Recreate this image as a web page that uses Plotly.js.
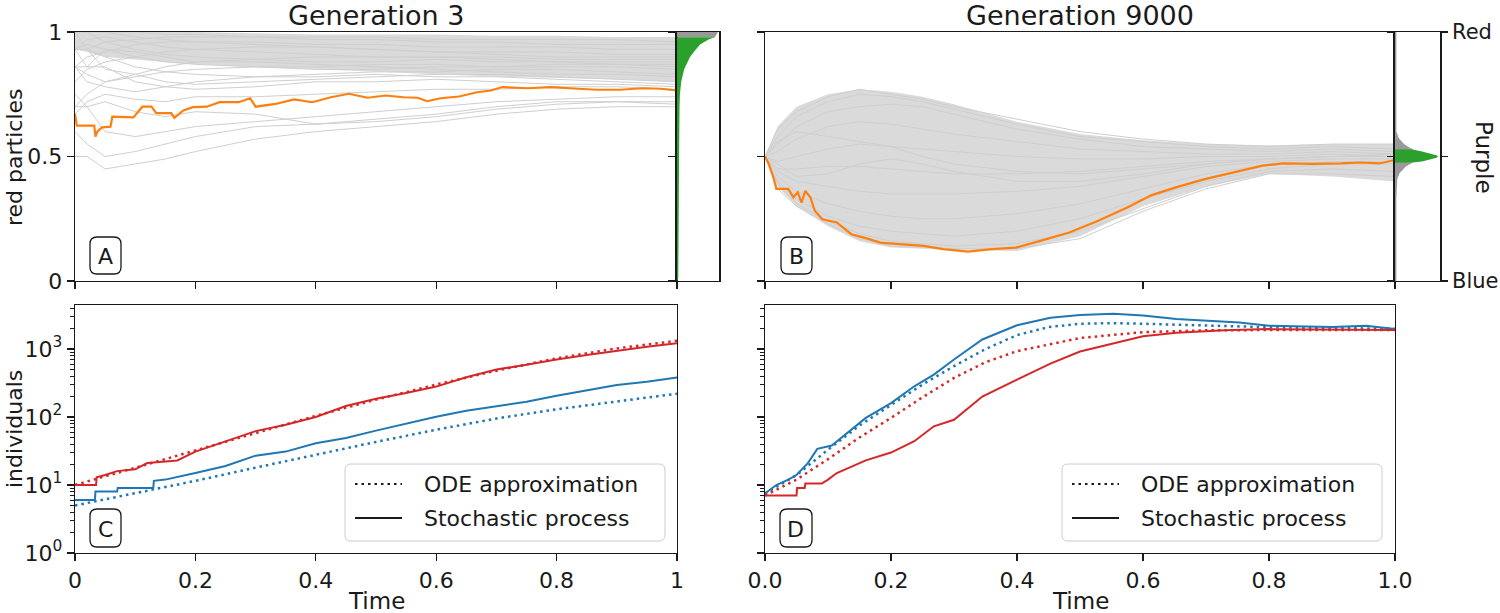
<!DOCTYPE html>
<html><head><meta charset="utf-8">
<script src="https://cdn.plot.ly/plotly-3.0.1.min.js"></script>
<style>html,body{margin:0;padding:0;background:#fff}#chart{width:1500px;height:613px}</style>
</head><body><div id="chart"></div>
<script>
// ---------- Panel A (Generation 3): fraction of red particles ----------
const timeGridA = [0,0.02,0.05,0.1,0.15,0.2,0.3,0.4,0.5,0.6,0.7,0.8,0.9,1.0];
const bandUpperA = [1,1,1,1,1,1,0.995,0.99,0.99,0.99,0.985,0.985,0.98,0.98];
const bandLowerA = [0.93,0.92,0.90,0.89,0.88,0.87,0.86,0.85,0.84,0.83,0.82,0.815,0.81,0.80];
const grayLinesA = [
  [0.5,0.5,0.45,0.47,0.49,0.52,0.57,0.6,0.62,0.64,0.67,0.69,0.70,0.70],
  [0.6,0.55,0.5,0.52,0.55,0.58,0.62,0.63,0.65,0.67,0.70,0.72,0.72,0.71],
  [0.75,0.7,0.6,0.58,0.6,0.62,0.64,0.66,0.68,0.70,0.72,0.73,0.74,0.74],
  [0.7,0.7,0.72,0.68,0.66,0.68,0.67,0.63,0.64,0.66,0.69,0.71,0.72,0.72],
  [0.67,0.72,0.75,0.73,0.72,0.74,0.74,0.75,0.76,0.77,0.77,0.78,0.78,0.77],
  [0.86,0.8,0.78,0.76,0.78,0.77,0.78,0.80,0.80,0.81,0.80,0.79,0.79,0.78],
  [0.93,0.93,0.85,0.83,0.8,0.79,0.8,0.81,0.82,0.83,0.83,0.82,0.81,0.80],
  [1.0,0.93,0.9,0.86,0.84,0.83,0.82,0.83,0.84,0.84,0.85,0.85,0.84,0.83],
  [0.93,0.95,0.93,0.9,0.88,0.87,0.86,0.86,0.87,0.87,0.86,0.86,0.86,0.85],
  [1.0,1.0,0.96,0.93,0.91,0.9,0.89,0.88,0.88,0.89,0.88,0.88,0.87,0.87],
  [0.93,0.97,0.98,0.96,0.94,0.93,0.92,0.91,0.90,0.90,0.90,0.89,0.89,0.89],
  [1.0,1.0,1.0,0.98,0.97,0.96,0.95,0.94,0.93,0.92,0.92,0.92,0.91,0.91],
  [0.86,0.9,0.92,0.95,0.96,0.96,0.96,0.95,0.95,0.94,0.94,0.94,0.93,0.93],
  [1.0,1.0,1.0,1.0,0.99,0.99,0.98,0.97,0.97,0.96,0.96,0.95,0.95,0.95],
  [0.93,0.93,0.96,0.97,0.98,0.98,0.98,0.98,0.98,0.97,0.97,0.97,0.97,0.96],
  [0.8,0.85,0.88,0.9,0.92,0.93,0.94,0.94,0.93,0.92,0.91,0.9,0.9,0.9],
  [0.7,0.75,0.8,0.83,0.86,0.88,0.89,0.9,0.9,0.9,0.89,0.88,0.88,0.88],
  [0.86,0.83,0.8,0.82,0.84,0.85,0.86,0.85,0.85,0.86,0.86,0.87,0.87,0.86],
  [0.93,0.86,0.86,0.8,0.78,0.8,0.82,0.82,0.83,0.82,0.82,0.81,0.80,0.79],
  [0.86,0.86,0.93,0.92,0.9,0.88,0.88,0.87,0.86,0.85,0.84,0.83,0.83,0.82]
];
const orangeTimeA = [0,0.003,0.032,0.034,0.037,0.045,0.059,0.062,0.097,0.112,0.127,0.135,0.16,0.165,0.18,0.196,0.219,0.24,0.272,0.291,0.30,0.333,0.364,0.394,0.425,0.455,0.486,0.516,0.546,0.569,0.585,0.607,0.638,0.668,0.691,0.71,0.752,0.79,0.836,0.867,0.905,0.943,0.973,1.0];
const orangeValA = [0.671,0.624,0.624,0.58,0.60,0.617,0.62,0.66,0.657,0.70,0.70,0.674,0.674,0.655,0.685,0.698,0.70,0.718,0.718,0.734,0.70,0.711,0.729,0.718,0.738,0.752,0.736,0.745,0.738,0.736,0.722,0.734,0.741,0.758,0.765,0.779,0.774,0.779,0.772,0.768,0.768,0.774,0.772,0.765];
// side density of final values (A)
const histAGrayLevel = [1.0,1.0,0.995,0.985,0.979,0.979];
const histAGrayWidth = [0,0.97,0.96,0.93,0.9,0];
const histAGreenLevel = [0.979,0.979,0.97,0.95,0.92,0.90,0.85,0.80,0.75,0.70,0.5,0.2,0.05,0.01,0];
const histAGreenWidth = [0,0.9,0.75,0.55,0.40,0.31,0.17,0.10,0.07,0.06,0.05,0.045,0.04,0.03,0];

// ---------- Panel B (Generation 9000) ----------
const timeGridB = [0,0.02,0.05,0.1,0.15,0.2,0.25,0.3,0.4,0.5,0.6,0.7,0.8,0.9,1.0];
const bandUpperB = [0.5,0.62,0.70,0.75,0.77,0.76,0.74,0.71,0.64,0.59,0.565,0.55,0.545,0.55,0.55];
const bandLowerB = [0.5,0.38,0.30,0.22,0.16,0.135,0.13,0.125,0.12,0.18,0.30,0.38,0.43,0.42,0.40];
const grayLinesB = [
  [0.5,0.58,0.66,0.72,0.75,0.74,0.72,0.69,0.63,0.58,0.56,0.54,0.53,0.54,0.53],
  [0.5,0.55,0.62,0.68,0.70,0.71,0.70,0.67,0.61,0.57,0.54,0.53,0.52,0.53,0.52],
  [0.5,0.52,0.57,0.62,0.64,0.63,0.61,0.59,0.56,0.53,0.52,0.51,0.51,0.52,0.51],
  [0.5,0.48,0.50,0.53,0.55,0.54,0.53,0.52,0.50,0.49,0.49,0.50,0.50,0.51,0.50],
  [0.5,0.45,0.45,0.46,0.46,0.45,0.44,0.43,0.43,0.44,0.46,0.48,0.49,0.50,0.50],
  [0.5,0.44,0.40,0.38,0.36,0.35,0.35,0.35,0.36,0.38,0.42,0.46,0.48,0.49,0.49],
  [0.5,0.42,0.36,0.31,0.28,0.26,0.25,0.25,0.27,0.31,0.37,0.43,0.47,0.48,0.48],
  [0.5,0.40,0.33,0.26,0.22,0.20,0.19,0.18,0.20,0.25,0.33,0.40,0.45,0.47,0.47],
  [0.5,0.39,0.31,0.24,0.19,0.16,0.15,0.14,0.15,0.20,0.29,0.38,0.44,0.45,0.44],
  [0.5,0.56,0.60,0.58,0.56,0.54,0.50,0.47,0.44,0.43,0.45,0.47,0.49,0.50,0.51],
  [0.5,0.47,0.42,0.43,0.47,0.49,0.47,0.44,0.40,0.40,0.43,0.47,0.49,0.50,0.50],
  [0.5,0.61,0.68,0.74,0.77,0.75,0.73,0.70,0.65,0.60,0.57,0.55,0.54,0.55,0.55],
  [0.5,0.37,0.30,0.23,0.17,0.14,0.135,0.13,0.13,0.17,0.28,0.37,0.43,0.43,0.42]
];
const orangeTimeB = [0,0.006,0.014,0.018,0.037,0.045,0.052,0.058,0.064,0.072,0.079,0.091,0.114,0.137,0.16,0.183,0.214,0.252,0.283,0.322,0.36,0.398,0.437,0.483,0.529,0.575,0.614,0.652,0.698,0.745,0.79,0.822,0.868,0.914,0.945,0.975,1.0];
const orangeValB = [0.50,0.47,0.41,0.37,0.37,0.336,0.356,0.315,0.362,0.336,0.282,0.248,0.235,0.188,0.172,0.154,0.148,0.141,0.128,0.118,0.128,0.134,0.161,0.195,0.242,0.295,0.345,0.376,0.409,0.436,0.463,0.472,0.47,0.472,0.476,0.472,0.486];
const histBGrayLevel = [1.0,1.0,0.6,0.59,0.575,0.564,0.55,0.537,0.528,0.5,0.476,0.46,0.445,0.433,0.41,0.33,0.0,0.0];
const histBGrayWidth = [0,0.03,0.03,0.05,0.08,0.13,0.2,0.31,0.4,0.5,0.39,0.24,0.15,0.10,0.05,0.03,0.03,0];
const histBGreenLevel = [0.528,0.528,0.52,0.51,0.505,0.5,0.495,0.49,0.48,0.476,0.476];
const histBGreenWidth = [0,0.39,0.6,0.82,0.92,0.96,0.92,0.82,0.6,0.39,0];
const colourTickVals = [0,1];
const colourTicks = ['Blue','Red'];

// ---------- Panel C (Generation 3): individuals ----------
const stochRedTimeC = [0,0.035,0.036,0.05,0.07,0.1,0.12,0.15,0.17,0.2,0.25,0.3,0.35,0.4,0.45,0.5,0.55,0.6,0.65,0.7,0.75,0.8,0.85,0.9,0.95,1.0];
const stochRedC = [10,10,13,14,16,17,21,22,23,31,44,62,77,100,145,185,225,280,385,500,585,700,815,950,1080,1220];
const odeTimeC = [0,0.1,0.2,0.3,0.4,0.5,0.6,0.7,0.8,0.9,1.0];
const odeRedC = [10,18,32,58,104,180,300,480,730,1020,1320];
const stochBlueTimeC = [0,0.033,0.034,0.07,0.071,0.13,0.131,0.15,0.2,0.25,0.3,0.35,0.4,0.45,0.5,0.55,0.6,0.65,0.7,0.75,0.8,0.85,0.9,0.95,1.0];
const stochBlueC = [6,6,8,8,9,9,11.5,12,15,19,27,31,41,49,63,80,101,124,143,168,205,248,295,330,380];
const odeBlueC = [5,7.6,11.5,18,28,43,65,95,130,170,220];

// ---------- Panel D (Generation 9000): individuals ----------
const stochBlueTimeD = [0,0.018,0.037,0.05,0.068,0.083,0.106,0.13,0.16,0.2,0.237,0.268,0.3,0.345,0.4,0.453,0.5,0.553,0.6,0.653,0.7,0.753,0.8,0.846,0.9,0.954,1.0];
const stochBlueD = [7.5,10,12,14,21,34,38,58,97,160,283,420,700,1380,2230,2870,3170,3300,3100,2760,2640,2460,2200,2150,2100,2200,1960];
const odeBlueTimeD = [0,0.05,0.1,0.15,0.2,0.25,0.3,0.35,0.4,0.45,0.5,0.55,0.6,0.7,0.8,0.9,1.0];
const odeBlueD = [7.5,14,33,75,150,300,560,1000,1600,2100,2350,2400,2350,2200,2090,2030,1990];
const stochRedTimeD = [0,0.05,0.051,0.063,0.064,0.09,0.1,0.114,0.16,0.2,0.237,0.268,0.3,0.345,0.4,0.453,0.5,0.545,0.6,0.653,0.73,0.8,0.9,1.0];
const stochRedD = [7,7,9,9,10.5,10.5,12,15,23,30,44,73,91,200,355,610,920,1150,1540,1730,1880,1960,1920,1900];
const odeRedTimeD = [0,0.05,0.1,0.15,0.2,0.25,0.3,0.35,0.4,0.5,0.6,0.7,0.8,1.0];
const odeRedD = [7,12,24,50,97,195,375,640,930,1450,1770,1880,1900,1900];

// ---------- tick labels ----------
const timeTicks = [0,0.2,0.4,0.6,0.8,1.0];
const timeLabelsC = ['0','0.2','0.4','0.6','0.8','1'];
const timeLabelsD = ['0.0','0.2','0.4','0.6','0.8','1.0'];
const fracTicks = [0,0.5,1];
const fracLabels = ['0','0.5','1'];
const logTicks = [1,10,100,1000];
const logLabels = ['10<sup>0</sup>','10<sup>1</sup>','10<sup>2</sup>','10<sup>3</sup>'];
const logMinor = [2,3,4,5,6,7,8,9,20,30,40,50,60,70,80,90,200,300,400,500,600,700,800,900,2000,3000,4000];

// ---------- build ----------
const W = 1500, H = 613;
const X = p => p / W, Y = p => 1 - p / H;
const RED = '#d62728', BLUE = '#1f77b4', ORANGE = '#ff7f0e', GREEN = '#2ca02c';
const traces = [];
function band(t, up, lo, xa, ya) {
  traces.push({x: t.concat(t.slice().reverse()), y: up.concat(lo.slice().reverse()),
    xaxis: xa, yaxis: ya, mode: 'lines', fill: 'toself', fillcolor: 'rgba(211,211,211,0.85)',
    line: {width: 0}, hoverinfo: 'skip', showlegend: false});
}
function line(t, v, xa, ya, color, width, dash) {
  traces.push({x: t, y: v, xaxis: xa, yaxis: ya, mode: 'lines',
    line: {color: color, width: width, dash: dash || 'solid'}, hoverinfo: 'skip', showlegend: false});
}
function poly(level, width, xa, ya, color) {
  traces.push({x: width, y: level, xaxis: xa, yaxis: ya, mode: 'lines', fill: 'toself',
    fillcolor: color, line: {width: 0}, hoverinfo: 'skip', showlegend: false});
}
// A
band(timeGridA, bandUpperA, bandLowerA, 'x', 'y');
grayLinesA.forEach(v => line(timeGridA, v, 'x', 'y', '#cfcfcf', 1));
line(orangeTimeA, orangeValA, 'x', 'y', ORANGE, 2.2);
poly(histAGrayLevel, histAGrayWidth, 'x2', 'y2', '#999999');
poly(histAGreenLevel, histAGreenWidth, 'x2', 'y2', GREEN);
// B
band(timeGridB, bandUpperB, bandLowerB, 'x3', 'y3');
grayLinesB.forEach(v => line(timeGridB, v, 'x3', 'y3', '#cfcfcf', 1));
line(orangeTimeB, orangeValB, 'x3', 'y3', ORANGE, 2.2);
poly(histBGrayLevel, histBGrayWidth, 'x4', 'y4', '#999999');
poly(histBGreenLevel, histBGreenWidth, 'x4', 'y4', GREEN);
// C
const DOT = '2.5px,4px';
line(odeTimeC, odeRedC, 'x5', 'y5', RED, 2.5, DOT);
line(odeTimeC, odeBlueC, 'x5', 'y5', BLUE, 2.5, DOT);
line(stochRedTimeC, stochRedC, 'x5', 'y5', RED, 2);
line(stochBlueTimeC, stochBlueC, 'x5', 'y5', BLUE, 2);
// D
line(odeBlueTimeD, odeBlueD, 'x6', 'y6', BLUE, 2.5, DOT);
line(odeRedTimeD, odeRedD, 'x6', 'y6', RED, 2.5, DOT);
line(stochBlueTimeD, stochBlueD, 'x6', 'y6', BLUE, 2);
line(stochRedTimeD, stochRedD, 'x6', 'y6', RED, 2);

const INK = '#1a1a1a';
const base = {showline: true, linecolor: INK, linewidth: 1.4, mirror: true, ticks: 'outside', ticklen: 7,
  tickwidth: 1.3, tickcolor: INK, showgrid: false, zeroline: false, tickfont: {size: 22, color: INK}};
const dA = [X(75), X(677)], hA = [X(677), X(719)], dB = [X(765), X(1395)], hB = [X(1395), X(1440)];
const yTop = [Y(281), Y(32)], yBot = [Y(553), Y(305)];
const minor = {tickmode: 'array', tickvals: logMinor, ticks: 'outside', ticklen: 4, tickwidth: 1, tickcolor: INK};

const layout = {
  width: W, height: H, margin: {l: 0, r: 0, t: 0, b: 0}, showlegend: false,
  paper_bgcolor: '#fff', plot_bgcolor: '#fff',
  font: {family: 'DejaVu Sans', color: INK},
  xaxis:  Object.assign({}, base, {domain: dA, anchor: 'y', range: [0, 1], tickvals: timeTicks, showticklabels: false}),
  yaxis:  Object.assign({}, base, {domain: yTop, anchor: 'x', range: [0, 1], tickvals: fracTicks, ticktext: fracLabels}),
  xaxis2: Object.assign({}, base, {domain: hA, anchor: 'y2', range: [0, 1], ticks: '', showticklabels: false}),
  yaxis2: Object.assign({}, base, {domain: yTop, anchor: 'x2', range: [0, 1], tickvals: fracTicks, showticklabels: false, linewidth: 1.8}),
  xaxis3: Object.assign({}, base, {domain: dB, anchor: 'y3', range: [0, 1], tickvals: timeTicks, showticklabels: false}),
  yaxis3: Object.assign({}, base, {domain: yTop, anchor: 'x3', range: [0, 1], tickvals: fracTicks, showticklabels: false}),
  xaxis4: Object.assign({}, base, {domain: hB, anchor: 'y4', range: [0, 1], ticks: '', showticklabels: false}),
  yaxis4: Object.assign({}, base, {domain: yTop, anchor: 'x4', side: 'right', mirror: 'ticks', range: [0, 1],
    tickvals: colourTickVals, ticktext: colourTicks, ticklen: 6, tickfont: {size: 21, color: INK}, linewidth: 1.8,
    minor: {tickmode: 'array', tickvals: [0.5], ticks: 'outside', ticklen: 6, tickwidth: 1.3, tickcolor: INK}}),
  xaxis5: Object.assign({}, base, {domain: dA, anchor: 'y5', range: [0, 1], tickvals: timeTicks, ticktext: timeLabelsC}),
  yaxis5: Object.assign({}, base, {domain: yBot, anchor: 'x5', type: 'log', range: [0, 3.647], tickvals: logTicks, ticktext: logLabels, minor: minor}),
  xaxis6: Object.assign({}, base, {domain: dB, anchor: 'y6', range: [0, 1], tickvals: timeTicks, ticktext: timeLabelsD}),
  yaxis6: Object.assign({}, base, {domain: yBot, anchor: 'x6', type: 'log', range: [0, 3.647], tickvals: logTicks, showticklabels: false, minor: minor}),
  shapes: [], annotations: []
};

function rr(x0, y0, x1, y1, r) {
  return `M ${X(x0+r)},${Y(y0)} L ${X(x1-r)},${Y(y0)} Q ${X(x1)},${Y(y0)} ${X(x1)},${Y(y0+r)} ` +
    `L ${X(x1)},${Y(y1-r)} Q ${X(x1)},${Y(y1)} ${X(x1-r)},${Y(y1)} L ${X(x0+r)},${Y(y1)} ` +
    `Q ${X(x0)},${Y(y1)} ${X(x0)},${Y(y1-r)} L ${X(x0)},${Y(y0+r)} Q ${X(x0)},${Y(y0)} ${X(x0+r)},${Y(y0)} Z`;
}
function txt(text, px, py, size, opts) {
  layout.annotations.push(Object.assign({text: text, x: X(px), y: Y(py), xref: 'paper', yref: 'paper',
    showarrow: false, font: {size: size, color: INK, family: 'DejaVu Sans'}, xanchor: 'center', yanchor: 'middle'}, opts || {}));
}
// panel letter boxes
[['A', 90, 237, 121, 274], ['B', 781, 237, 812, 274], ['C', 90, 509, 121, 547], ['D', 780, 509, 812, 547]].forEach(b => {
  layout.shapes.push({type: 'path', xref: 'paper', yref: 'paper', layer: 'above', path: rr(b[1], b[2], b[3], b[4], 7),
    fillcolor: 'rgba(255,255,255,0.85)', line: {color: INK, width: 1.3}});
  txt(b[0], (b[1] + b[3]) / 2, (b[2] + b[4]) / 2 + 1, 22);
});
// legends
[[345, 464], [1062, 464]].forEach(p => {
  const x0 = p[0], y0 = p[1];
  layout.shapes.push({type: 'path', xref: 'paper', yref: 'paper', layer: 'above', path: rr(x0, y0, x0 + 320, y0 + 77, 6),
    fillcolor: 'rgba(255,255,255,0.85)', line: {color: '#cccccc', width: 1}});
  layout.shapes.push({type: 'line', xref: 'paper', yref: 'paper', layer: 'above', x0: X(x0 + 10), x1: X(x0 + 57), y0: Y(y0 + 20), y1: Y(y0 + 20),
    line: {color: INK, width: 2.2, dash: DOT}});
  layout.shapes.push({type: 'line', xref: 'paper', yref: 'paper', layer: 'above', x0: X(x0 + 10), x1: X(x0 + 57), y0: Y(y0 + 54), y1: Y(y0 + 54),
    line: {color: INK, width: 2.2}});
  txt('ODE approximation', x0 + 77, y0 + 20, 22, {xanchor: 'left'});
  txt('Stochastic process', x0 + 77, y0 + 54, 22, {xanchor: 'left'});
});
// titles and axis labels
txt('Generation 3', 376, 15, 27);
txt('Generation 9000', 1080, 15, 27);
txt('Time', 376, 601, 23);
txt('Time', 1080, 601, 23);
txt('red particles', 15, 157, 22, {textangle: -90});
txt('individuals', 14, 429, 22, {textangle: -90});
txt('Purple', 1484, 157, 23, {textangle: 90});

Plotly.newPlot('chart', traces, layout, {staticPlot: true, displayModeBar: false});
</script></body></html>
